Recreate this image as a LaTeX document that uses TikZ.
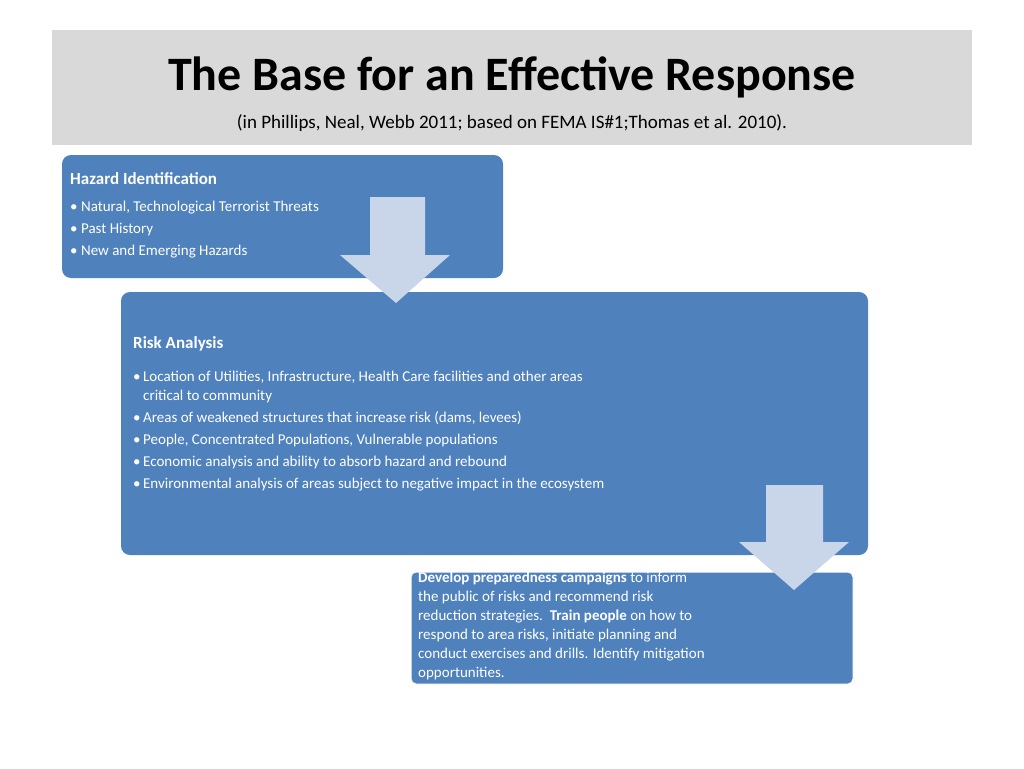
\documentclass[tikz,border=0pt]{standalone}
\usepackage{fontspec}
\setmainfont{Carlito}
\definecolor{boxblue}{HTML}{4F81BD}
\definecolor{arrowc}{HTML}{C9D5E9}
\begin{document}
\begin{tikzpicture}[x=1pt,y=-1pt,
  bx/.style={fill=boxblue,rounded corners=9pt},
  arr/.style={fill=arrowc,draw=none},
  txt/.style={anchor=north west,inner sep=0,text=white,align=left,font=\fontsize{15}{22}\selectfont}]
\useasboundingbox (0,0) rectangle (1024,768);
\fill[fill=white] (0,0) rectangle (1024,768);
\fill[fill=gray!30] (52,30) rectangle (972,145);
\node (title) at (512,77) {\fontsize{48}{54}\selectfont\bfseries The Base for an Effective Response};
\node (sub) at (512,123) {\fontsize{19}{22}\selectfont (in Phillips, Neal, Webb 2011; based on FEMA IS\#1;Thomas et al. 2010).};
\path[bx] (62,155) rectangle (503,278);
\node[txt] (h1) at (70,172) {\fontsize{17}{20}\selectfont\bfseries Hazard Identification};
\node[txt] (h2) at (70,201) {• Natural, Technological Terrorist Threats\\• Past History\\• New and Emerging Hazards};
\path[bx] (121,292) rectangle (868,555);
\node[txt] (r1) at (133,336) {\fontsize{17}{20}\selectfont\bfseries Risk Analysis};
\node[txt] (r2) at (133,366) {\begin{tabular}{@{}l@{\,}l@{}}
• & Location of Utilities, Infrastructure, Health Care facilities and other areas\\[-3pt]
 & critical to community\\
• & Areas of weakened structures that increase risk (dams, levees)\\
• & People, Concentrated Populations, Vulnerable populations\\
• & Economic analysis and ability to absorb hazard and rebound\\
• & Environmental analysis of areas subject to negative impact in the ecosystem
\end{tabular}};
\path[bx,rounded corners=5pt,draw=white,line width=1pt] (411,572) rectangle (853,684);
\node[txt,font=\fontsize{15}{19}\selectfont] (d) at (418,572) {\textbf{Develop preparedness campaigns} to inform\\the public of risks and recommend risk\\reduction strategies.\ \ \textbf{Train people} on how to\\respond to area risks, initiate planning and\\conduct exercises and drills. Identify mitigation\\opportunities.};
\path[arr] (370,197) -- (425,197) -- (425,255) -- (450,255) -- (396,303) -- (340,255) -- (370,255) -- cycle;
\path[arr] (766,485) -- (823,485) -- (823,542) -- (849,542) -- (794,590) -- (739,542) -- (766,542) -- cycle;
\end{tikzpicture}
\end{document}
